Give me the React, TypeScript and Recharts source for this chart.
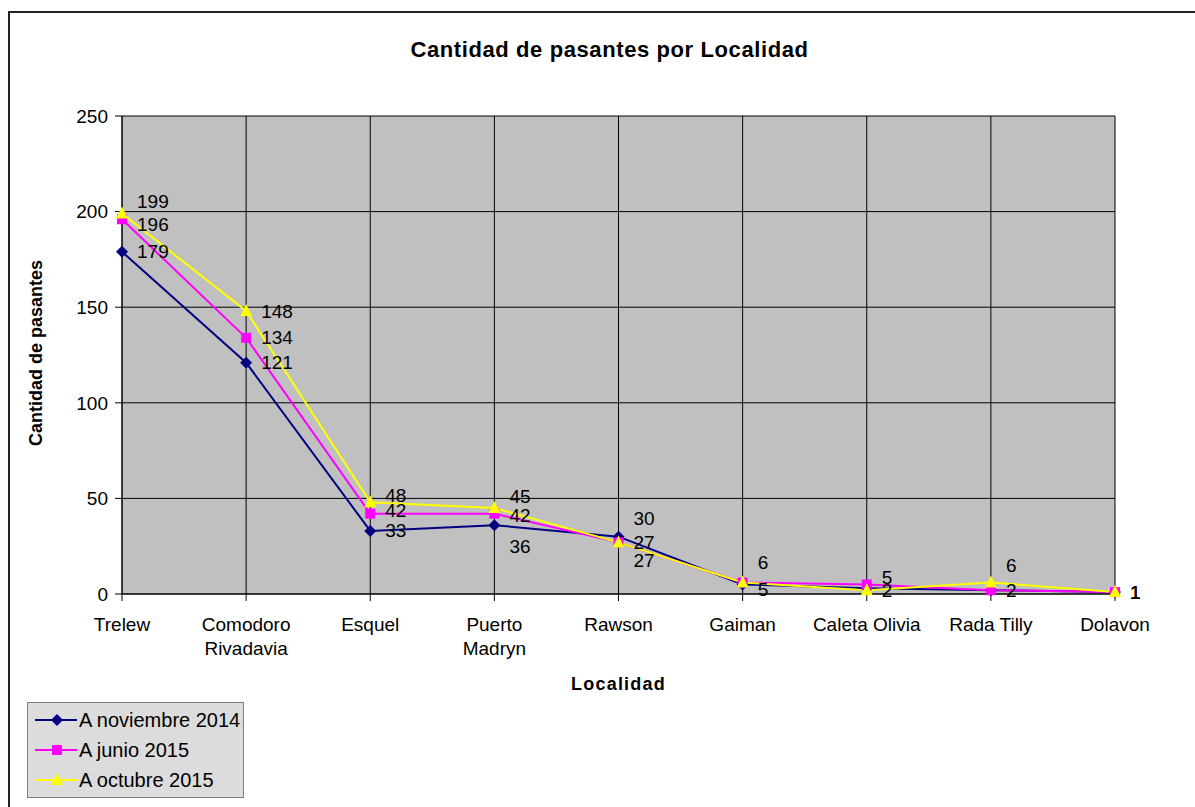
import React from 'react';
import { LineChart, Line, XAxis, YAxis, CartesianGrid, Legend, LabelList } from 'recharts';

// Localidades (eje X)
const categories = ['Trelew', 'Comodoro Rivadavia', 'Esquel', 'Puerto Madryn', 'Rawson', 'Gaiman', 'Caleta Olivia', 'Rada Tilly', 'Dolavon'];
const tickLines = [['Trelew'], ['Comodoro', 'Rivadavia'], ['Esquel'], ['Puerto', 'Madryn'], ['Rawson'], ['Gaiman'], ['Caleta Olivia'], ['Rada Tilly'], ['Dolavon']];

// Cantidad de pasantes por serie
const nov2014 = [179, 121, 33, 36, 30, 5, 3, 2, 1];
const jun2015 = [196, 134, 42, 42, 27, 6, 5, 2, 1];
const oct2015 = [199, 148, 48, 45, 27, 6, 2, 6, 1];

const yTicks = [0, 50, 100, 150, 200, 250];

// desplazamiento vertical de las etiquetas (null = oculta, tapada en el original)
const nudgeNov = [0, 0, 0, 21, -18, 5, null, null, 0];
const nudgeJun = [5, 0, -3, 2, 0, null, -7, 0, 0];
const nudgeOct = [-12, 0, -7, -11, 18, -20, 0, -17, 0];

const FONT = 'Arial, "Liberation Sans", sans-serif';

const data = categories.map((c, i) => ({
  name: c,
  nov: nov2014[i],
  jun: jun2015[i],
  oct: oct2015[i],
}));

const series = [
  { key: 'nov', name: 'A noviembre 2014', color: '#000080', shape: 'diamond', nudge: nudgeNov },
  { key: 'jun', name: 'A junio 2015', color: '#FF00FF', shape: 'square', nudge: nudgeJun },
  { key: 'oct', name: 'A octubre 2015', color: '#FFFF00', shape: 'triangle', nudge: nudgeOct },
];

const Marker = ({ cx, cy, shape, color }: any) => {
  if (cx == null || cy == null) return null;
  if (shape === 'diamond') {
    return <polygon points={`${cx},${cy - 6} ${cx + 6},${cy} ${cx},${cy + 6} ${cx - 6},${cy}`} fill={color} />;
  }
  if (shape === 'square') {
    return <rect x={cx - 5} y={cy - 5} width={10} height={10} fill={color} />;
  }
  return <polygon points={`${cx},${cy - 7} ${cx + 6},${cy + 5} ${cx - 6},${cy + 5}`} fill={color} />;
};

const XTick = ({ x, y, payload }: any) => {
  const lines = tickLines[payload.index] || [payload.value];
  return (
    <g>
      {lines.map((l, i) => (
        <text key={i} x={x} y={y + 28 + i * 24} textAnchor="middle" fontSize={19} fontFamily={FONT} fill="#000">
          {l}
        </text>
      ))}
    </g>
  );
};

const LegendBox = () => (
  <div
    style={{
      background: '#DCDCDC',
      border: '1px solid #808080',
      width: 217,
      padding: '2px 0',
      fontFamily: FONT,
      fontSize: 20,
      boxSizing: 'border-box',
      height: 96,
    }}
  >
    {series.map((s) => (
      <div key={s.key} style={{ display: 'flex', alignItems: 'center', height: 30 }}>
        <svg width={42} height={20} style={{ marginLeft: 7 }}>
          <line x1={0} y1={10} x2={42} y2={10} stroke={s.color} strokeWidth={2} />
          <Marker cx={22} cy={10} shape={s.shape} color={s.color} />
        </svg>
        <span style={{ marginLeft: 2 }}>{s.name}</span>
      </div>
    ))}
  </div>
);

export default function App() {
  return (
    <div style={{ position: 'absolute', left: 0, top: 0, width: 1195, height: 807, background: '#fff', overflow: 'hidden' }}>
      <div style={{ position: 'absolute', left: 8, top: 11, width: 1300, height: 900, borderLeft: '2px solid #222', borderTop: '2px solid #222' }} />
      <div style={{ position: 'absolute', left: 0, top: 37, width: 1219, textAlign: 'center', fontFamily: FONT, fontWeight: 'bold', fontSize: 22, letterSpacing: 0.6 }}>
        Cantidad de pasantes por Localidad
      </div>
      <div style={{ position: 'absolute', left: 0, top: 0 }}>
        <LineChart width={1195} height={807} data={data} margin={{ top: 116, right: 80, bottom: 153, left: 62 }}>
          <CartesianGrid stroke="#000" strokeWidth={1} fill="#C0C0C0" fillOpacity={1} vertical horizontal />
          <XAxis
            dataKey="name"
            tick={<XTick />}
            tickLine={{ stroke: '#000' }}
            tickSize={7}
            axisLine={{ stroke: '#000' }}
            height={60}
            interval={0}
            label={({ viewBox }: any) => (
              <text x={viewBox.x + viewBox.width / 2 + 0} y={viewBox.y + 96} textAnchor="middle" fontFamily={FONT} fontWeight="bold" fontSize={18} letterSpacing={1.2}>
                Localidad
              </text>
            )}
          />
          <YAxis
            width={60}
            domain={[0, 250]}
            ticks={yTicks}
            tick={{ fill: '#000', fontSize: 19, fontFamily: FONT, dx: -5 }}
            tickLine={{ stroke: '#000' }}
            tickSize={7}
            axisLine={{ stroke: '#000' }}
            label={({ viewBox }: any) => {
              const cy = viewBox.y + viewBox.height / 2 - 2;
              return (
                <text x={36} y={cy} transform={`rotate(-90, 36, ${cy})`} textAnchor="middle" dominantBaseline="central" fontFamily={FONT} fontWeight="bold" fontSize={18}>
                  Cantidad de pasantes
                </text>
              );
            }}
          />
          <Legend
            layout="horizontal"
            verticalAlign="middle"
            content={<LegendBox />}
            wrapperStyle={{ position: 'absolute', left: 27, top: 702, width: 'auto', bottom: 'auto' }}
          />
          {series.map((s) => (
            <Line
              key={s.key}
              type="linear"
              dataKey={s.key}
              name={s.name}
              stroke={s.color}
              strokeWidth={2}
              isAnimationActive={false}
              dot={(p: any) => <Marker key={`${s.key}-${p.index}`} cx={p.cx} cy={p.cy} shape={s.shape} color={s.color} />}
              activeDot={false}
            >
              <LabelList
                dataKey={s.key}
                content={(p: any) => {
                  const dy = s.nudge[p.index];
                  if (dy == null) return null;
                  return (
                    <text x={p.x + 15} y={p.y + dy} dominantBaseline="central" fontFamily={FONT} fontSize={19} fill="#000">
                      {p.value}
                    </text>
                  );
                }}
              />
            </Line>
          ))}
        </LineChart>
      </div>
    </div>
  );
}
